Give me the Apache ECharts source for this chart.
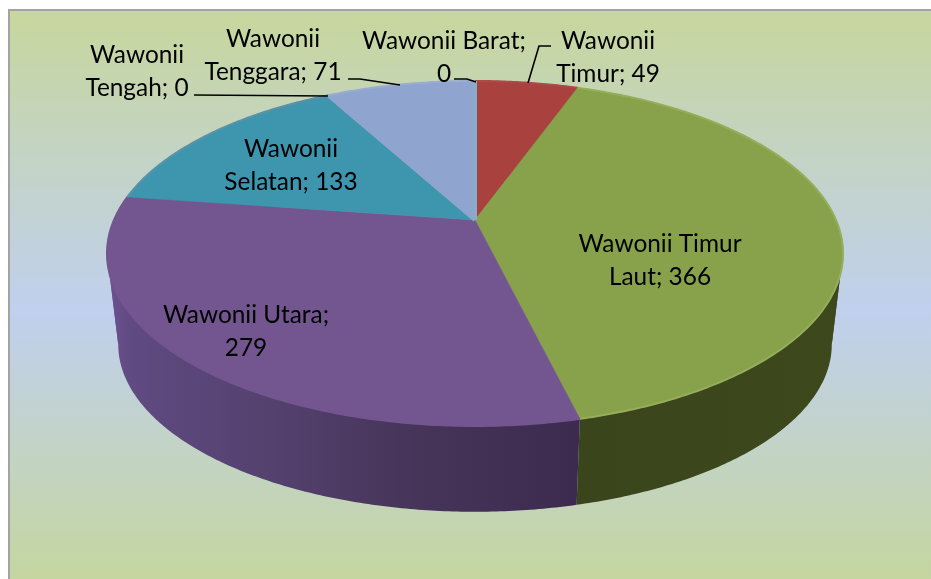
<!DOCTYPE html>
<html>
<head>
<meta charset="utf-8">
<style>html,body{margin:0;padding:0;background:#fff}#c{width:931px;height:579px}</style>
<script src="https://cdn.jsdelivr.net/npm/echarts@6/dist/echarts.min.js"></script>
</head>
<body>
<div id="c"></div>
<script>
// ---- data ----
const names = ['Wawonii Timur','Wawonii Timur Laut','Wawonii Utara','Wawonii Selatan','Wawonii Tengah','Wawonii Tenggara','Wawonii Barat'];
const values = [49,366,279,133,0,71,0];

// ---- styles & layout ----
const topColors = ['#a9413f','#87a24a','#73568f','#3e95ae','#8fa5cf','#8fa5cf','#8bacc9'];
const rimColors = ['#ab4a48','#96ae5c','#73568f','#5a93a8','#9aaccf','#9aaccf','#8bacc9'];
const wallStops = [
  [[0,'#5d2020'],[1,'#5d2020']],
  [[0,'#3a451c'],[1,'#3d481c']],
  [[0,'#6d5392'],[0.05,'#604a82'],[0.35,'#54416e'],[0.65,'#463459'],[1,'#3c2a4f']],
  [[0,'#1f5466'],[1,'#1f5466']],
  [[0,'#4d5f80'],[1,'#4d5f80']],[[0,'#4d5f80'],[1,'#4d5f80']],[[0,'#4d5f80'],[1,'#4d5f80']]
];
const labelBreak = [1,2,2,1,1,1,2];
const labelPos = [[608,58],[660,261],[246,332],[291,166],[137,72],[273,56],[444,58]];
const leaders = [
  [[551,46],[539,46],[528,83]],null,null,null,
  [[194,95],[328,96]],
  [[348,79],[360,79],[400,85]],
  [[454,79],[467,79],[476,82]]
];
const topRing = {cx:475,cy:220,R:361,S:166};
const botRing = {cx:475,cy:312,R:350,S:161};
const persp = 0.194;
const frame = {x:9,y:10,width:940,height:600};
const labelFont = '24.4px Lato, "Open Sans", sans-serif';

// ---- geometry ----
const total = values.reduce((a,b)=>a+b,0);
let acc = 0;
const slices = values.map((v,i)=>{
  const a0 = acc/total*Math.PI*2; acc += v;
  return {name:names[i],value:[i,a0,acc/total*Math.PI*2,v]};
});
// angles at which the rim reaches its left/right silhouette
const sideAngle = Math.acos(-persp);
const silhouette = [sideAngle, 2*Math.PI-sideAngle];
function project(t,r){
  const u=Math.sin(t), v=Math.cos(t), w=1+persp*v;
  return [r.cx+r.R*u/w, r.cy-r.S*v/w];
}
function arc(a0,a1,r){
  const n=Math.max(1,Math.ceil((a1-a0)/0.01)), p=[];
  for(let i=0;i<=n;i++) p.push(project(a0+(a1-a0)*i/n,r));
  return p;
}
function labelText(i){
  const w=(names[i]+'; '+values[i]).split(' '), b=labelBreak[i];
  return w.slice(0,b).join(' ')+'\n'+w.slice(b).join(' ');
}
function wall(params,api){
  const i=api.value(0), a0=api.value(1), a1=api.value(2);
  if(a1<=a0) return {type:'group',children:[]};
  const cuts=[a0].concat(silhouette.filter(s=>s>a0&&s<a1),[a1]);
  const all=arc(a0,a1,topRing).concat(arc(a0,a1,botRing));
  const xs=all.map(p=>p[0]), x0=Math.min(...xs), x1=Math.max(...xs);
  const fill=new echarts.graphic.LinearGradient(x0,0,x1,0,
    wallStops[i].map(s=>({offset:s[0],color:s[1]})),true);
  const ch=[];
  for(let k=0;k<cuts.length-1;k++){
    const pts=arc(cuts[k],cuts[k+1],topRing).concat(arc(cuts[k],cuts[k+1],botRing).reverse());
    ch.push({type:'polygon',shape:{points:pts},style:{fill:fill}});
  }
  return {type:'group',children:ch};
}
function top_(params,api){
  const i=api.value(0), a0=api.value(1), a1=api.value(2);
  const rim=arc(a0,a1,topRing);
  return {type:'group',children:[
    {type:'polygon',shape:{points:[[topRing.cx,topRing.cy]].concat(rim)},
     style:{fill:topColors[i],stroke:topColors[i],lineWidth:a1>a0?0.6:4}},
    {type:'polyline',shape:{points:rim},style:{fill:'none',stroke:rimColors[i],lineWidth:2}}
  ]};
}
function label_(params,api){
  const i=api.value(0), p=labelPos[i], ch=[];
  ch.push({type:'text',style:{x:p[0],y:p[1],text:labelText(i),font:labelFont,fill:'#000',
    align:'center',verticalAlign:'middle',lineHeight:33}});
  if(leaders[i]) ch.push({type:'polyline',shape:{points:leaders[i]},style:{fill:'none',stroke:'#000',lineWidth:1.6}});
  return {type:'group',children:ch};
}
const chart = echarts.init(document.getElementById('c'),null,{renderer:'canvas'});
function customSeries(render,z){
  return {type:'custom',coordinateSystem:'none',renderItem:render,data:slices,z:z,animation:false,silent:true,clip:false};
}
chart.setOption({
  animation:false,
  backgroundColor:'#ffffff',
  graphic:[{type:'rect',z:0,shape:frame,style:{
    fill:new echarts.graphic.LinearGradient(0,0,0,1,[
      {offset:0,color:'#c7d79c'},{offset:0.5,color:'#c0d0ee'},{offset:0.95,color:'#c5d6a0'},{offset:1,color:'#c5d6a0'}]),
    stroke:'#a3a3a3',lineWidth:2}}],
  series:[customSeries(wall,2),customSeries(top_,3),customSeries(label_,4)]
});
</script>
</body>
</html>
